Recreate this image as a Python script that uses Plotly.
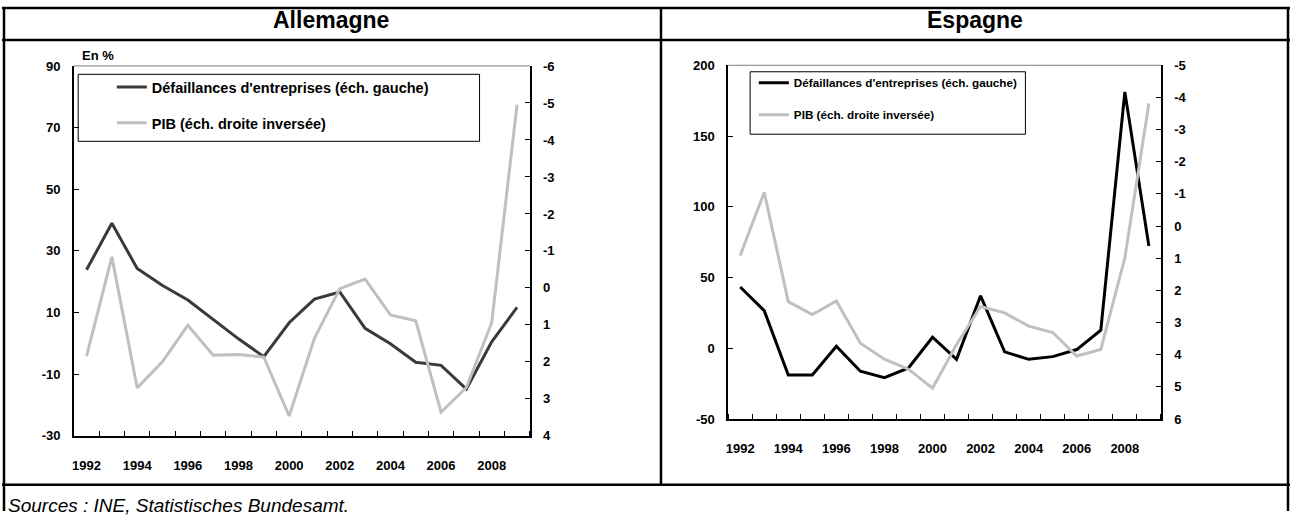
import plotly.graph_objects as go

# Years on the horizontal axis
years = list(range(1992, 2010))
year_labels = [str(y) for y in range(1992, 2009, 2)]

# Germany: business failures (% change, left axis) and GDP growth (%, right axis, inverted)
de_defaillances = [23.9, 39.0, 24.3, 18.8, 14.1, 7.8, 1.5, -4.3, 6.7, 14.4, 16.7,
                   4.9, -0.1, -6.1, -7.1, -14.8, 0.5, 11.7]
de_pib = [1.84, -0.84, 2.70, 1.99, 1.01, 1.82, 1.80, 1.87, 3.46, 1.36, 0.02,
          -0.24, 0.73, 0.89, 3.36, 2.69, 0.94, -4.95]

# Spain: business failures (% change, left axis) and GDP growth (%, right axis, inverted)
es_defaillances = [43.3, 26.6, -18.9, -18.9, 1.4, -16.2, -20.8, -13.9, 7.8, -7.8, 37.1,
                   -2.5, -7.8, -5.9, -0.9, 12.8, 181.2, 72.3]
es_pib = [0.92, -1.05, 2.35, 2.75, 2.33, 3.64, 4.14, 4.45, 5.04, 3.68, 2.50,
          2.70, 3.11, 3.31, 4.04, 3.84, 0.99, -3.81]

# Value-axis tick marks
de_left_ticks = [-30, -10, 10, 30, 50, 70, 90]
de_right_ticks = [-6, -5, -4, -3, -2, -1, 0, 1, 2, 3, 4]
es_left_ticks = [-50, 0, 50, 100, 150, 200]
es_right_ticks = [-5, -4, -3, -2, -1, 0, 1, 2, 3, 4, 5, 6]

W, H = 1290, 519


def px(x):
    return x / W


def py(y):
    return 1 - y / H


FONT = "Liberation Sans, Arial, sans-serif"
DARK = "#3a3a3a"
BLACK = "#000000"
LIGHT = "#c0c0c0"

fig = go.Figure()

# GDP lines first so the failures lines are drawn on top; legendrank keeps
# the failures entry listed first
fig.add_trace(go.Scatter(x=years, y=de_pib, mode="lines",
                         line=dict(color=LIGHT, width=3),
                         name="PIB (éch. droite inversée)", legendrank=2,
                         xaxis="x", yaxis="y2", legend="legend", legendgroup="d2"))
fig.add_trace(go.Scatter(x=years, y=de_defaillances, mode="lines",
                         line=dict(color=DARK, width=3),
                         name="Défaillances d'entreprises (éch. gauche)", legendrank=1,
                         xaxis="x", yaxis="y", legend="legend", legendgroup="d1"))
fig.add_trace(go.Scatter(x=years, y=es_pib, mode="lines",
                         line=dict(color=LIGHT, width=3),
                         name="PIB (éch. droite inversée)", legendrank=2,
                         xaxis="x2", yaxis="y4", legend="legend2", legendgroup="s2"))
fig.add_trace(go.Scatter(x=years, y=es_defaillances, mode="lines",
                         line=dict(color=BLACK, width=3),
                         name="Défaillances d'entreprises (éch. gauche)", legendrank=1,
                         xaxis="x2", yaxis="y3", legend="legend2", legendgroup="s1"))

tickfont = dict(family=FONT, size=13, color="black", weight="bold")


def xaxis_cfg(x0, x1):
    return dict(domain=[px(x0), px(x1)], range=[1991.5, 2009.5], type="linear",
                tickmode="array", tickvals=[int(t) for t in year_labels],
                ticktext=year_labels, ticks="", showgrid=False, zeroline=False,
                showline=True, linecolor="black", linewidth=1.5,
                tickfont=tickfont, ticklabelstandoff=17,
                minor=dict(tickmode="linear", tick0=1991.5, dtick=1, ticks="inside",
                           ticklen=5, tickcolor="black", tickwidth=1, showgrid=False))


def yaxis_cfg(y0, y1, ticks, reverse=False, side="left", overlay=None, anchor=None):
    rng = [ticks[-1], ticks[0]] if reverse else [ticks[0], ticks[-1]]
    cfg = dict(domain=[py(y1), py(y0)], range=rng, tickmode="array", tickvals=ticks,
               ticktext=[str(t) for t in ticks], ticks="inside", ticklen=5,
               tickcolor="black", showgrid=False, zeroline=False, showline=True,
               linecolor="black", linewidth=1.5, tickfont=tickfont, side=side,
               ticklabelstandoff=9)
    if overlay:
        cfg["overlaying"] = overlay
    if anchor:
        cfg["anchor"] = anchor
    return cfg


fig.update_layout(
    width=W, height=H, margin=dict(l=0, r=0, t=0, b=0),
    paper_bgcolor="white", plot_bgcolor="white",
    xaxis=xaxis_cfg(72, 528.5),
    yaxis=yaxis_cfg(60.7, 441.7, de_left_ticks, anchor="x"),
    yaxis2=yaxis_cfg(60.7, 441.7, de_right_ticks, reverse=True, side="right",
                     overlay="y", anchor="x"),
    xaxis2=dict(xaxis_cfg(727.3, 1160.7), anchor="y3"),
    yaxis3=yaxis_cfg(60, 424.3, es_left_ticks, anchor="x2"),
    yaxis4=yaxis_cfg(60, 424.3, es_right_ticks, reverse=True, side="right",
                     overlay="y3", anchor="x2"),
    showlegend=True,
    legend=dict(x=px(110), y=py(66), xanchor="left", yanchor="top",
                bgcolor="rgba(0,0,0,0)", borderwidth=0, traceorder="grouped",
                tracegroupgap=14, itemwidth=30,
                font=dict(family=FONT, size=14.5, color="black", weight="bold")),
    legend2=dict(x=px(753), y=py(63), xanchor="left", yanchor="top",
                 bgcolor="rgba(0,0,0,0)", borderwidth=0, traceorder="grouped",
                 tracegroupgap=13, itemwidth=30,
                 font=dict(family=FONT, size=11.7, color="black", weight="bold")),
)

shapes = []
# Frame around the two panels
frame = dict(type="line", xref="paper", yref="paper", line=dict(color="black", width=2.5))
for (x0, y0, x1, y1) in [(2, 0, 2, 519), (1288, 0, 1288, 519), (0, 1, 1290, 1),
                         (0, 34, 1290, 34), (660, 0, 660, 492), (0, 492, 1290, 492)]:
    shapes.append(dict(frame, x0=px(x0), y0=py(y0), x1=px(x1), y1=py(y1)))
# Thin top edge of each plot area
for xa, ya in [("x", "y"), ("x2", "y3")]:
    shapes.append(dict(type="line", xref=f"{xa} domain", yref=f"{ya} domain",
                       x0=0, x1=1, y0=1, y1=1, line=dict(color="#7f7f7f", width=1)))
# Legend boxes
for (x0, y0, x1, y1) in [(76.3, 69.3, 478.3, 138.3), (749.3, 66.7, 1025, 131)]:
    shapes.append(dict(type="rect", xref="paper", yref="paper",
                       x0=px(x0), y0=py(y0), x1=px(x1), y1=py(y1),
                       line=dict(color="black", width=1), fillcolor="rgba(0,0,0,0)"))
fig.update_layout(shapes=shapes)

annotations = [
    dict(text="<b>Allemagne</b>", x=px(330), y=py(13), font=dict(family=FONT, size=23)),
    dict(text="<b>Espagne</b>", x=px(975), y=py(13), font=dict(family=FONT, size=23)),
    dict(text="<b>En %</b>", x=px(78), y=py(50), xanchor="left",
         font=dict(family=FONT, size=13)),
    dict(text="<i>Sources : INE, Statistisches Bundesamt.</i>", x=px(4), y=py(513),
         xanchor="left", font=dict(family=FONT, size=19)),
]
for a in annotations:
    a.setdefault("xanchor", "center")
    a.update(xref="paper", yref="paper", yanchor="middle", showarrow=False)
    a["font"]["color"] = "black"
fig.update_layout(annotations=annotations)

fig.write_html("out.html")
